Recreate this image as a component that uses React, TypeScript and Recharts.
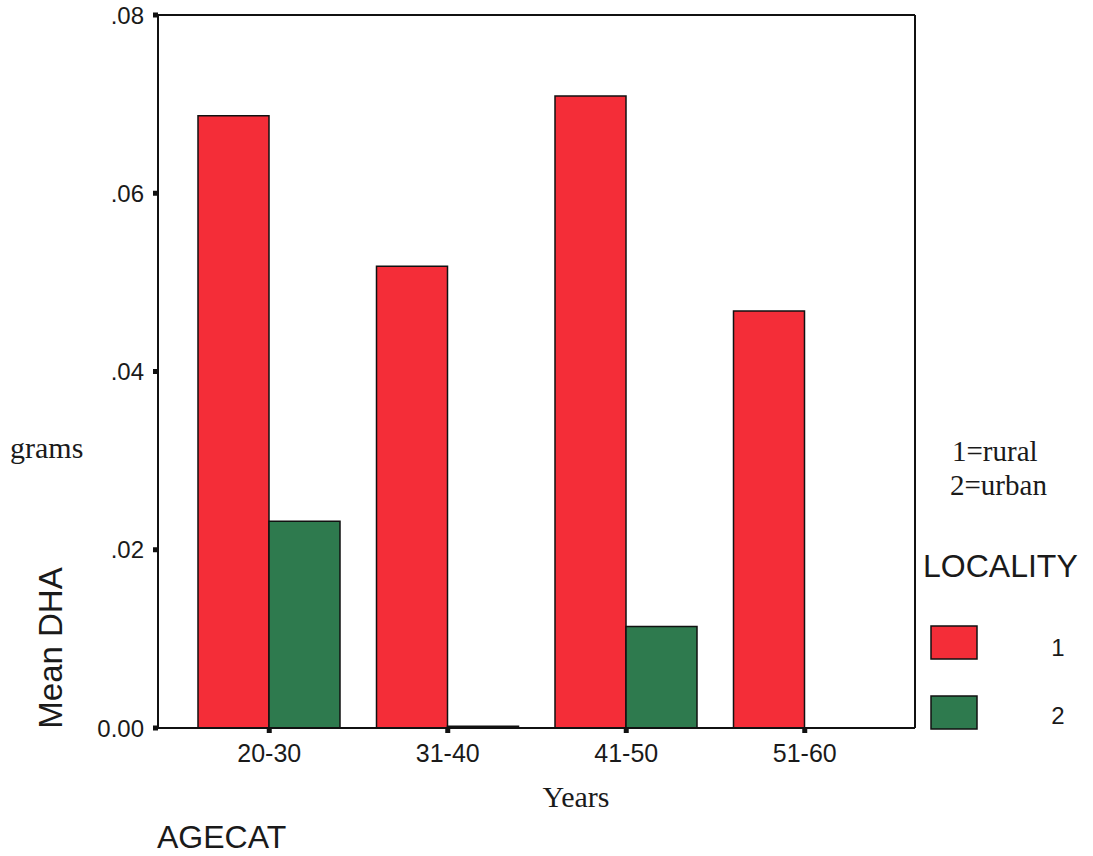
import React from "react";
import { BarChart, Bar, XAxis, YAxis, Legend, Customized } from "recharts";

const categories = ["20-30", "31-40", "41-50", "51-60"];
const ruralValues = [0.0687, 0.0518, 0.0709, 0.0468];
const urbanValues = [0.0232, 0.0002, 0.0114, 0];
const yTicks = [0, 0.02, 0.04, 0.06, 0.08];
const yTickLabels = ["0.00", ".02", ".04", ".06", ".08"];
const seriesNames = ["1", "2"];
const seriesColors = ["#F42D38", "#2E7A4E"];

const data = categories.map((c, i) => ({
  cat: c,
  rural: ruralValues[i],
  urban: urbanValues[i],
}));

const SANS = "Arial, 'Liberation Sans', sans-serif";
const SERIF = "'Times New Roman', 'Liberation Serif', serif";

const LegendContent = () => (
  <svg width={173} height={320} style={{ display: "block" }}>
    <text x={32} y={41} fontFamily={SERIF} fontSize={29} fill="#1a1a1a">1=rural</text>
    <text x={30} y={75} fontFamily={SERIF} fontSize={29} fill="#1a1a1a">2=urban</text>
    <text x={3} y={157} fontFamily={SANS} fontSize={32} fill="#1a1a1a">LOCALITY</text>
    {seriesNames.map((n, i) => (
      <g key={n}>
        <rect x={11} y={206 + i * 70} width={46} height={33} fill={seriesColors[i]} stroke="#111" strokeWidth={1.5} />
        <text x={138} y={236 + i * 68} fontFamily={SANS} fontSize={24} fill="#1a1a1a" textAnchor="middle">{n}</text>
      </g>
    ))}
  </svg>
);

const Annotations = () => (
  <g>
    <text x={10} y={458} fontFamily={SERIF} fontSize={30} fill="#1a1a1a">grams</text>
    <text
      x={50}
      y={648}
      fontFamily={SANS}
      fontSize={33}
      fill="#1a1a1a"
      textAnchor="middle"
      dominantBaseline="central"
      transform="rotate(-90 50 648)"
    >
      Mean DHA
    </text>
    <text x={576} y={807} fontFamily={SERIF} fontSize={30} fill="#1a1a1a" textAnchor="middle">Years</text>
    <text x={157} y={848} fontFamily={SANS} fontSize={32} fill="#1a1a1a">AGECAT</text>
  </g>
);

export default function App() {
  return (
    <div style={{ position: "absolute", left: 0, top: 0, width: 1093, height: 856, background: "#fff" }}>
      <BarChart
        width={1093}
        height={856}
        data={data}
        margin={{ top: 14, right: 177, bottom: 68, left: 98 }}
        barCategoryGap={18}
        barGap={0}
      >
        <XAxis
          dataKey="cat"
          height={60}
          padding={{ left: 22, right: 21 }}
          axisLine={{ stroke: "#111", strokeWidth: 2 }}
          tickLine={{ stroke: "#111", strokeWidth: 5 }}
          tickSize={5}
          tickMargin={11}
          tick={{ fill: "#1a1a1a", fontFamily: SANS, fontSize: 25 }}
        />
        <XAxis
          xAxisId="top"
          dataKey="cat"
          orientation="top"
          height={1}
          tick={false}
          tickLine={false}
          axisLine={{ stroke: "#111", strokeWidth: 2 }}
        />
        <YAxis
          width={60}
          domain={[0, 0.08]}
          ticks={yTicks}
          tickFormatter={(v: number) => yTickLabels[yTicks.indexOf(v)] ?? String(v)}
          axisLine={{ stroke: "#111", strokeWidth: 2 }}
          tickLine={{ stroke: "#111", strokeWidth: 5 }}
          tickSize={5}
          tickMargin={9}
          tick={{ fill: "#1a1a1a", fontFamily: SANS, fontSize: 24 }}
          allowDataOverflow
        />
        <YAxis
          yAxisId="right"
          orientation="right"
          width={1}
          domain={[0, 0.08]}
          tick={false}
          tickLine={false}
          axisLine={{ stroke: "#111", strokeWidth: 2 }}
        />
        <Bar dataKey="rural" name="1" fill={seriesColors[0]} stroke="#111" strokeWidth={1.5} isAnimationActive={false} />
        <Bar dataKey="urban" name="2" fill={seriesColors[1]} stroke="#111" strokeWidth={1.5} isAnimationActive={false} />
        <Legend
          layout="vertical"
          align="center"
          verticalAlign="middle"
          content={<LegendContent />}
          wrapperStyle={{ position: "absolute", left: 920, top: 420, width: 173, height: 320 }}
        />
        <Customized component={<Annotations />} />
      </BarChart>
    </div>
  );
}
